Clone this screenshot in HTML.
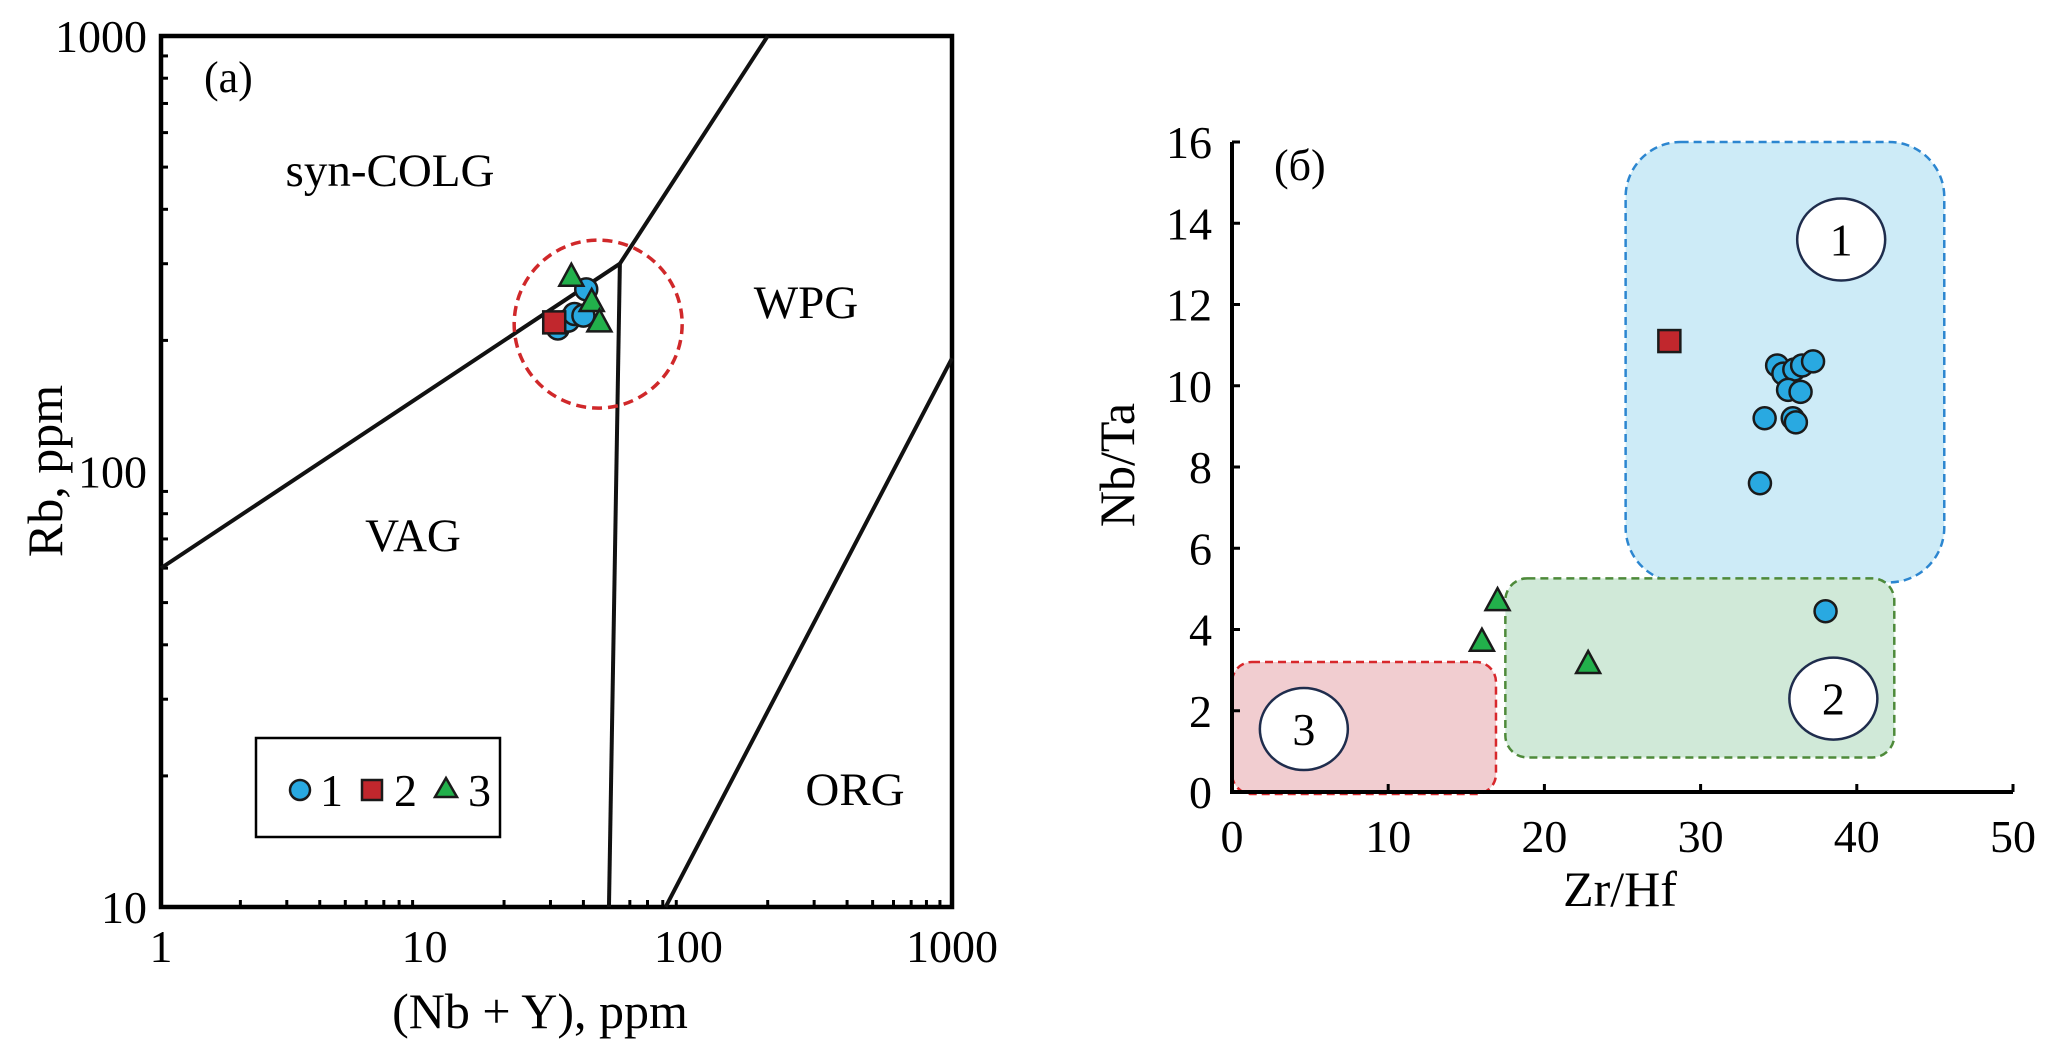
<!DOCTYPE html>
<html><head><meta charset="utf-8"><style>
html,body{margin:0;padding:0;background:#fff;}
svg{display:block;font-family:"Liberation Serif",serif;}
</style></head><body>
<svg id="s" width="2067" height="1048" viewBox="0 0 2067 1048"></svg>
<script>
// ---- Panel (a) data ----
const boundaryVagSyn = [[1,60],[55,300]];
const boundarySynWpg = [[55,300],[200,1000]];
const boundaryVagWpg = [[55,300],[50,10]];
const boundaryWpgOrg = [[82,10],[1000,182]];
const aCircles = [[32,213],[35,222],[37,230],[40,228],[41,262]];
const aSquares = [[31,220]];
const aTriangles = [[36,280],[43,245],[46,220]];
const aHighlight = [45.5,218];
const aXTicks = [1,10,100,1000];
const aYTicks = [10,100,1000];
// ---- Panel (б) data ----
const bCircles = [[34.9,10.5],[35.3,10.3],[36,10.4],[36.5,10.5],[37.2,10.6],[35.6,9.9],[36.4,9.85],[34.1,9.2],[35.9,9.2],[36.1,9.1],[33.8,7.6],[38,4.45]];
const bSquares = [[28,11.1]];
const bTriangles = [[17,4.7],[16,3.7],[22.8,3.15]];
const bXTicks = [0,10,20,30,40,50];
const bYTicks = [0,2,4,6,8,10,12,14,16];
const regionBlue = [25.2,45.6,5.16,16];
const regionGreen = [17.5,42.4,0.85,5.26];
const regionRed = [0,16.9,-0.05,3.2];
const regionLabels = [["1",39,13.6],["2",38.5,2.3],["3",4.6,1.55]];

const NS="http://www.w3.org/2000/svg";
const svg=document.getElementById('s');
function mk(tag,attrs,parent){const e=document.createElementNS(NS,tag);for(const k in attrs)e.setAttribute(k,attrs[k]);(parent||svg).appendChild(e);return e;}
function txt(str,x,y,attrs){const t=mk('text',Object.assign({x:x,y:y,'font-size':46,fill:'#000'},attrs||{}));t.textContent=str;return t;}

// ---- Panel (a) axes ----
const AX0=161,AX1=952,AY0=907,AY1=36;
const ax=v=>AX0+(Math.log10(v)-0)/3*(AX1-AX0);
const ay=v=>AY0-(Math.log10(v)-1)/2*(AY0-AY1);
let r=mk('rect',{x:AX0,y:AY1,width:AX1-AX0,height:AY0-AY1,fill:'none',stroke:'#000','stroke-width':4.5});

for(let d=0;d<3;d++)for(let m=2;m<10;m++){const v=Math.pow(10,d)*m;const l=mk('line',{x1:ax(v),x2:ax(v),y1:AY0,y2:AY0-7,stroke:'#000','stroke-width':3});
}
for(let d=1;d<3;d++)for(let m=2;m<10;m++){const v=Math.pow(10,d)*m;const l=mk('line',{x1:AX0,x2:AX0+7,y1:ay(v),y2:ay(v),stroke:'#000','stroke-width':3});
}
aXTicks.forEach(v=>{const t=txt(String(v),ax(v),962,{'text-anchor':'middle'});});
aYTicks.forEach(v=>{const t=txt(String(v),AX0-14,ay(v)+16,{'text-anchor':'end'});});
let t=txt('(Nb + Y), ppm',540,1028,{'text-anchor':'middle','font-size':50});
t=txt('Rb, ppm',0,0,{'text-anchor':'middle','font-size':50,transform:'translate(62,471) rotate(-90)'});
[boundaryVagSyn,boundarySynWpg,boundaryVagWpg,boundaryWpgOrg].forEach(b=>{const l=mk('line',{x1:ax(b[0][0]),y1:ay(b[0][1]),x2:ax(b[1][0]),y2:ay(b[1][1]),stroke:'#111','stroke-width':4});
});
t=txt('(a)',204,92,{'font-size':44});
[['syn-COLG',390,186],['WPG',806,318],['VAG',413,551],['ORG',855,805]].forEach(a=>{const q=txt(a[0],a[1],a[2],{'text-anchor':'middle','font-size':47});
});
let c=mk('circle',{cx:ax(aHighlight[0]),cy:ay(aHighlight[1]),r:84,fill:'none',stroke:'#d0282a','stroke-width':3.5,'stroke-dasharray':'10 6'});


function circ(x,y,name){const e=mk('circle',{cx:x,cy:y,r:11,fill:'#29a9e1',stroke:'#1a1a1a','stroke-width':2.5});}
function sq(x,y,name){const e=mk('rect',{x:x-11,y:y-11,width:22,height:22,fill:'#c1272d',stroke:'#1a1a1a','stroke-width':2.5});}
function tri(x,y,name){const e=mk('polygon',{points:`${x},${y-13} ${x+12},${y+9} ${x-12},${y+9}`,fill:'#22b04b',stroke:'#1a1a1a','stroke-width':2.5});}
aCircles.forEach(p=>circ(ax(p[0]),ay(p[1]),'point-group-1'));
aSquares.forEach(p=>sq(ax(p[0]),ay(p[1]),'point-group-2'));
aTriangles.forEach(p=>tri(ax(p[0]),ay(p[1]),'point-group-3'));
// legend
const lg=mk('g',{});
mk('rect',{x:256,y:738,width:244,height:99,fill:'#fff',stroke:'#000','stroke-width':2.5},lg);
mk('circle',{cx:300,cy:790,r:10,fill:'#29a9e1',stroke:'#1a1a1a','stroke-width':2.5},lg);
let q=txt('1',320,806,{'font-size':46});lg.appendChild(q);
mk('rect',{x:362,y:780,width:20,height:20,fill:'#c1272d',stroke:'#1a1a1a','stroke-width':2.5},lg);
q=txt('2',394,806,{'font-size':46});lg.appendChild(q);
mk('polygon',{points:'446,778 457,797 435,797',fill:'#22b04b',stroke:'#1a1a1a','stroke-width':2.5},lg);
q=txt('3',468,806,{'font-size':46});lg.appendChild(q);

// ---- Panel (б) ----
const BX0=1232,BX1=2013,BY0=792,BY1=142;
const bx=v=>BX0+v/50*(BX1-BX0);
const by=v=>BY0-v/16*(BY0-BY1);
function region(rg,fill,stroke,rad,name){const x1=bx(rg[0]),x2=bx(rg[1]),y1=by(rg[3]),y2=by(rg[2]);
const e=mk('rect',{x:x1,y:y1,width:x2-x1,height:y2-y1,rx:rad,ry:rad,fill:fill,stroke:stroke,'stroke-width':2.5,'stroke-dasharray':'8 5'});
}
region(regionBlue,'#cdebf7','#2c86d0',55,'region-1');
region(regionGreen,'#d0e9d8','#4e8a3a',22,'region-2');
region(regionRed,'#f1cdd0','#d8282c',20,'region-3');
regionLabels.forEach(a=>{const g=mk('g',{});
mk('ellipse',{cx:bx(a[1]),cy:by(a[2]),rx:44,ry:41,fill:'#fff',stroke:'#1f2d4d','stroke-width':2.5},g);
const s=txt(a[0],bx(a[1]),by(a[2])+16,{'text-anchor':'middle','font-size':46});g.appendChild(s);});
let ax1=mk('polyline',{points:`${BX0},${BY1} ${BX0},${BY0} ${BX1},${BY0}`,fill:'none',stroke:'#000','stroke-width':4});

bXTicks.forEach(v=>{const l=mk('line',{x1:bx(v),x2:bx(v),y1:BY0,y2:BY0-8,stroke:'#000','stroke-width':3});
const s=txt(String(v),bx(v),852,{'text-anchor':'middle'});});
bYTicks.forEach(v=>{const l=mk('line',{x1:BX0,x2:BX0+8,y1:by(v),y2:by(v),stroke:'#000','stroke-width':3});
const s=txt(String(v),1212,by(v)+16,{'text-anchor':'end'});});
t=txt('Zr/Hf',1620,906,{'text-anchor':'middle','font-size':50});
t=txt('Nb/Ta',0,0,{'text-anchor':'middle','font-size':50,transform:'translate(1134,465) rotate(-90)'});
t=txt('(б)',1274,180,{'font-size':44,'font-family':'"Liberation Serif","DejaVu Serif",serif'});
bSquares.forEach(p=>sq(bx(p[0]),by(p[1]),'point-group-2'));
bCircles.forEach(p=>circ(bx(p[0]),by(p[1]),'point-group-1'));
bTriangles.forEach(p=>tri(bx(p[0]),by(p[1]),'point-group-3'));
</script>
</body></html>
